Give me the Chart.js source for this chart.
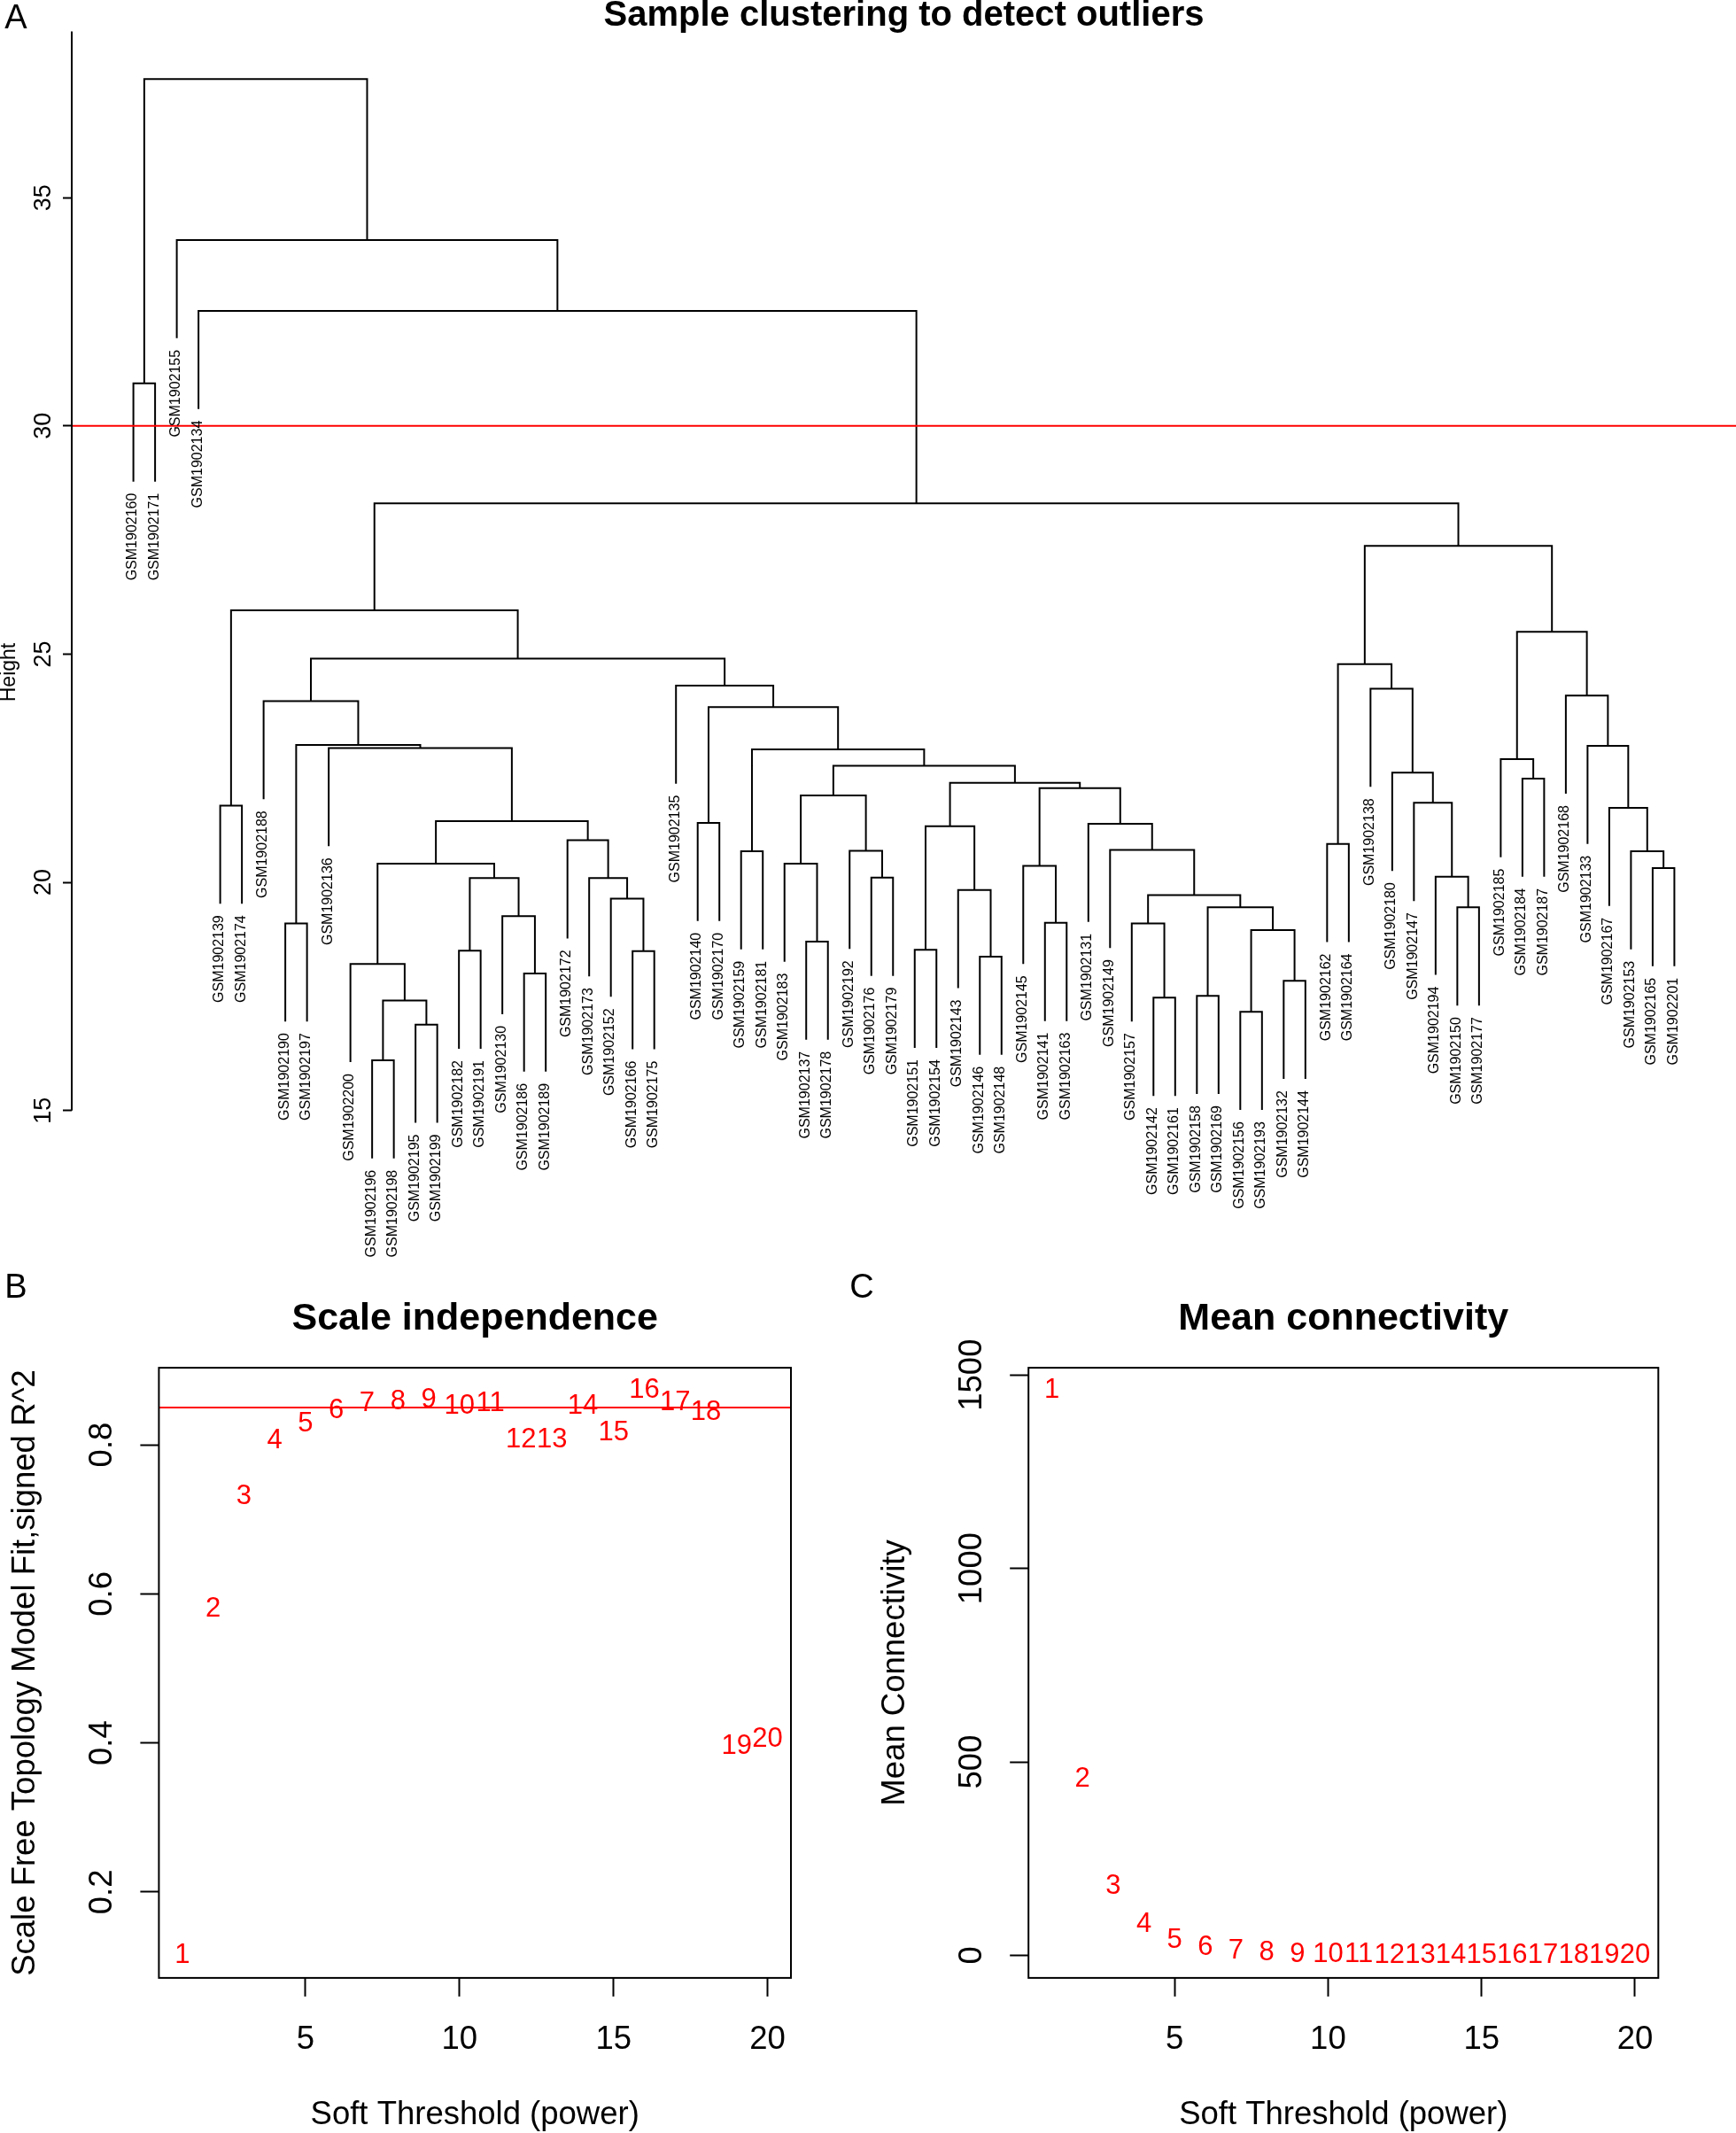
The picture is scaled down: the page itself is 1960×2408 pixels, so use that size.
<!DOCTYPE html>
<html>
<head>
<meta charset="utf-8">
<title>Sample clustering / soft threshold</title>
<script src="https://cdn.jsdelivr.net/npm/chart.js@4.4.1/dist/chart.umd.min.js"></script>
<style>
  html, body { margin: 0; padding: 0; background: #fff; }
  #page { position: relative; width: 1960px; height: 2408px; background: #fff; overflow: hidden; }
  canvas { position: absolute; }
  #treeChart { left: 0; top: 0; }
  #fitChart { left: 0; top: 1430px; }
  #connChart { left: 960px; top: 1430px; }
</style>
</head>
<body>
<div id="page">
  <canvas id="treeChart" width="1960" height="1500"></canvas>
  <canvas id="fitChart" width="960" height="978"></canvas>
  <canvas id="connChart" width="1000" height="978"></canvas>
</div>
<script>
const FONT = '"Liberation Sans", Arial, Helvetica, sans-serif';
Chart.defaults.font.family = FONT;
Chart.defaults.color = '#000';

// ---- A: sample tree (leaves in plotted order) ----
const leafLabels = ['GSM1902160','GSM1902171','GSM1902155','GSM1902134','GSM1902139','GSM1902174','GSM1902188','GSM1902190','GSM1902197','GSM1902136',
  'GSM1902200','GSM1902196','GSM1902198','GSM1902195','GSM1902199','GSM1902182','GSM1902191','GSM1902130','GSM1902186','GSM1902189',
  'GSM1902172','GSM1902173','GSM1902152','GSM1902166','GSM1902175','GSM1902135','GSM1902140','GSM1902170','GSM1902159','GSM1902181',
  'GSM1902183','GSM1902137','GSM1902178','GSM1902192','GSM1902176','GSM1902179','GSM1902151','GSM1902154','GSM1902143','GSM1902146',
  'GSM1902148','GSM1902145','GSM1902141','GSM1902163','GSM1902131','GSM1902149','GSM1902157','GSM1902142','GSM1902161','GSM1902158',
  'GSM1902169','GSM1902156','GSM1902193','GSM1902132','GSM1902144','GSM1902162','GSM1902164','GSM1902138','GSM1902180','GSM1902147',
  'GSM1902194','GSM1902150','GSM1902177','GSM1902185','GSM1902184','GSM1902187','GSM1902168','GSM1902133','GSM1902167','GSM1902153',
  'GSM1902165','GSM1902201'];

// hclust style merges: negative = leaf position, positive = earlier merge (1-based)
const mergeLeft = [-12,-14,1,-11,-16,-19,-18,5,4,-24, -23,-22,-21,9,-10,-8,16,-7,-27,-29,
  -32,-31,-35,-34,22,-37,-40,-39,26,-43, -42,-48,-47,-50,-52,-54,35,34,33,-46,
  -45,31,29,25,20,19,-26,18,-5,49, -56,-62,-61,-60,-59,-58,51,-65,-64,-71,
  -70,-69,-68,-67,59,57,50,-4,-3,-1, 70];
const mergeRight = [-13,-15,2,3,-17,-20,6,7,8,-25, 10,11,12,13,14,-9,15,17,-28,-30,
  -33,21,-36,23,24,-38,-41,27,28,-44, 30,-49,32,-51,-53,-55,36,37,38,39,
  40,41,42,43,44,45,46,47,-6,48, -57,-63,52,53,54,55,56,-66,58,-72,
  60,61,62,63,64,65,66,67,68,-2, 69];
const mergeHeight = [16.10,16.88,17.41,18.21,18.50,18.00,19.26,20.09,20.41,18.49,
  19.64,20.09,20.92,21.34,22.94,19.10,23.01,23.97,21.30,20.68,
  18.70,20.41,20.10,20.69,21.90,18.52,18.37,19.83,21.23,19.11,
  20.36,17.47,19.10,17.51,17.16,17.84,18.95,19.45,19.72,20.71,
  21.28,22.06,22.18,22.55,22.91,23.84,24.31,24.90,21.68,25.96,
  20.84,19.45,20.12,21.74,22.40,24.24,24.78,22.27,22.70,20.31,
  20.68,21.63,22.99,24.09,25.49,27.37,28.30,32.52,34.07,30.93,37.60];
const cutHeight = 30;
const heightTicks = [15, 20, 25, 30, 35];
const heightRange = [10.56, 38.64];

// ---- B / C: soft threshold ----
const powers = [1,2,3,4,5,6,7,8,9,10,11,12,13,14,15,16,17,18,19,20];
const signedR2 = [0.115,0.580,0.730,0.805,0.828,0.846,0.855,0.858,0.860,0.852,
  0.855,0.807,0.807,0.852,0.816,0.873,0.856,0.843,0.395,0.405];
const r2Cut = 0.85;
const meanK = [1460,455,178,79,40,20,11.6,5.8,3.0,1.9,1.4,1.0,0.75,0.56,0.43,0.34,0.27,0.22,0.18,0.15];
const powerTicks = [5, 10, 15, 20];
const r2Ticks = [0.2, 0.4, 0.6, 0.8];
const kTicks = [0, 500, 1000, 1500];

// R default axis range: data range stretched by 4% each side
function rRange(vals) {
  const lo = Math.min(...vals), hi = Math.max(...vals), d = 0.04 * (hi - lo);
  return [lo - d, hi + d];
}

function rotText(ctx, s, px, py) {
  ctx.save();
  ctx.translate(px, py);
  ctx.rotate(-Math.PI / 2);
  ctx.fillText(s, 0, 0);
  ctx.restore();
}

// build the tree segments
const hang = 0.1 * (Math.max(...mergeHeight) - Math.min(...mergeHeight));
const nodeX = [];
const leafEnd = [];
const treeSets = [];
mergeHeight.forEach((h, i) => {
  const a = mergeLeft[i], b = mergeRight[i];
  const xa = a < 0 ? -a : nodeX[a - 1];
  const xb = b < 0 ? -b : nodeX[b - 1];
  const ya = a < 0 ? h - hang : mergeHeight[a - 1];
  const yb = b < 0 ? h - hang : mergeHeight[b - 1];
  if (a < 0) leafEnd[-a - 1] = ya;
  if (b < 0) leafEnd[-b - 1] = yb;
  nodeX[i] = (xa + xb) / 2;
  treeSets.push({
    data: [{ x: xa, y: ya }, { x: xa, y: h }, { x: xb, y: h }, { x: xb, y: yb }],
    showLine: true, borderColor: '#000', borderWidth: 2, pointRadius: 0,
    tension: 0, order: 1
  });
});
const nLeaf = leafLabels.length;
const leafRange = [1 - 0.04 * (nLeaf - 1), nLeaf + 0.04 * (nLeaf - 1)];

const treeText = {
  id: 'treeText',
  afterDraw(chart) {
    const { ctx, chartArea, scales: { x, y } } = chart;
    ctx.save();
    ctx.strokeStyle = '#000';
    ctx.lineWidth = 2;
    ctx.beginPath();
    ctx.moveTo(chartArea.left, y.getPixelForValue(heightTicks[0]));
    ctx.lineTo(chartArea.left, chartArea.top);
    ctx.stroke();

    ctx.fillStyle = '#000';
    ctx.textAlign = 'center';
    ctx.textBaseline = 'middle';
    ctx.font = '27px ' + FONT;
    heightTicks.forEach(v => rotText(ctx, String(v), 49.5, y.getPixelForValue(v)));
    ctx.font = '23px ' + FONT;
    rotText(ctx, 'Height', 11, (chartArea.top + chartArea.bottom) / 2);

    ctx.font = '38px ' + FONT;
    ctx.fillText('A', 18, 22);
    ctx.font = 'bold 40px ' + FONT;
    ctx.fillText('Sample clustering to detect outliers', (chartArea.left + chartArea.right) / 2, 18);

    ctx.font = '16px ' + FONT;
    ctx.textAlign = 'right';
    leafLabels.forEach((lab, i) => {
      rotText(ctx, lab, x.getPixelForValue(i + 1) - 1, y.getPixelForValue(leafEnd[i]) + 13);
    });
    ctx.restore();
  }
};

new Chart(document.getElementById('treeChart'), {
  type: 'scatter',
  data: {
    datasets: [{
      data: [{ x: leafRange[0], y: cutHeight }, { x: leafRange[1], y: cutHeight }],
      showLine: true, borderColor: '#FF0000', borderWidth: 2, pointRadius: 0, order: 0
    }].concat(treeSets)
  },
  options: {
    responsive: false, animation: false, devicePixelRatio: 1, events: [],
    layout: { padding: { top: 35.6, bottom: 17.6, left: 0, right: 0 } },
    plugins: { legend: { display: false }, tooltip: { enabled: false } },
    scales: {
      x: { type: 'linear', display: false, min: leafRange[0], max: leafRange[1] },
      y: {
        type: 'linear', position: 'left', min: heightRange[0], max: heightRange[1],
        afterBuildTicks: s => { s.ticks = heightTicks.map(v => ({ value: v })); },
        afterFit: s => { s.width = 81; },
        grid: { display: true, drawOnChartArea: false, drawTicks: true, tickLength: 10, tickWidth: 2, tickColor: '#000' },
        border: { display: false },
        ticks: { display: false }
      }
    }
  },
  plugins: [treeText]
});

// ---- B and C ----
function thresholdPanel(canvasId, cfg) {
  const xr = rRange(powers);
  const yr = rRange(cfg.values);
  const sets = [{
    data: powers.map((p, i) => ({ x: p, y: cfg.values[i] })),
    pointRadius: 0, order: 1
  }];
  if (cfg.cut !== undefined) {
    sets.push({
      data: [{ x: xr[0], y: cfg.cut }, { x: xr[1], y: cfg.cut }],
      showLine: true, borderColor: '#FF0000', borderWidth: 2, pointRadius: 0, order: 0
    });
  }

  const decor = {
    id: 'decor',
    beforeDatasetsDraw(chart) {
      const ctx = chart.ctx;
      const meta = chart.getDatasetMeta(0);
      ctx.save();
      ctx.fillStyle = '#FF0000';
      ctx.font = '31px ' + FONT;
      ctx.textAlign = 'center';
      ctx.textBaseline = 'middle';
      meta.data.forEach((pt, i) => ctx.fillText(String(powers[i]), pt.x, pt.y));
      ctx.restore();
    },
    afterDraw(chart) {
      const { ctx, chartArea: ca, scales: { x, y } } = chart;
      const midX = (ca.left + ca.right) / 2;
      const midY = (ca.top + ca.bottom) / 2;
      ctx.save();
      ctx.strokeStyle = '#000';
      ctx.lineWidth = 2;
      ctx.strokeRect(ca.left, ca.top, ca.right - ca.left, ca.bottom - ca.top);

      ctx.fillStyle = '#000';
      ctx.textAlign = 'center';
      ctx.textBaseline = 'middle';
      ctx.font = '38px ' + FONT;
      ctx.fillText(cfg.letter, cfg.letterX, 25);
      ctx.font = 'bold 43px ' + FONT;
      ctx.fillText(cfg.title, midX, 59);

      ctx.font = '36.5px ' + FONT;
      cfg.yTicks.forEach(v => rotText(ctx, String(v), cfg.yTickX, y.getPixelForValue(v)));
      ctx.textBaseline = 'alphabetic';
      powerTicks.forEach(v => ctx.fillText(String(v), x.getPixelForValue(v), 883));
      ctx.fillText('Soft Threshold (power)', midX, 968);
      rotText(ctx, cfg.yTitle, cfg.yTitleX, midY);
      ctx.restore();
    }
  };

  new Chart(document.getElementById(canvasId), {
    type: 'scatter',
    data: { datasets: sets },
    options: {
      responsive: false, animation: false, devicePixelRatio: 1, events: [],
      layout: { padding: { top: 114.1, right: cfg.padRight, bottom: 0, left: 0 } },
      plugins: { legend: { display: false }, tooltip: { enabled: false } },
      scales: {
        x: {
          type: 'linear', position: 'bottom', min: xr[0], max: xr[1],
          afterBuildTicks: s => { s.ticks = powerTicks.map(v => ({ value: v })); },
          afterFit: s => { s.height = 175.1; },
          grid: { display: true, drawOnChartArea: false, drawTicks: true, tickLength: 21, tickWidth: 2, tickColor: '#000' },
          border: { display: false },
          ticks: { display: false }
        },
        y: {
          type: 'linear', position: 'left', min: yr[0], max: yr[1],
          afterBuildTicks: s => { s.ticks = cfg.yTicks.map(v => ({ value: v })); },
          afterFit: s => { s.width = cfg.left; },
          grid: { display: true, drawOnChartArea: false, drawTicks: true, tickLength: 21, tickWidth: 2, tickColor: '#000' },
          border: { display: false },
          ticks: { display: false }
        }
      }
    },
    plugins: [decor]
  });
}

thresholdPanel('fitChart', {
  values: signedR2, cut: r2Cut, yTicks: r2Ticks,
  letter: 'B', letterX: 18, title: 'Scale independence',
  yTitle: 'Scale Free Topology Model Fit,signed R^2',
  left: 179.4, padRight: 67, yTickX: 115.5, yTitleX: 39
});

thresholdPanel('connChart', {
  values: meanK, yTicks: kTicks,
  letter: 'C', letterX: 13, title: 'Mean connectivity',
  yTitle: 'Mean Connectivity',
  left: 201.2, padRight: 87.7, yTickX: 137.5, yTitleX: 61
});
</script>
</body>
</html>
